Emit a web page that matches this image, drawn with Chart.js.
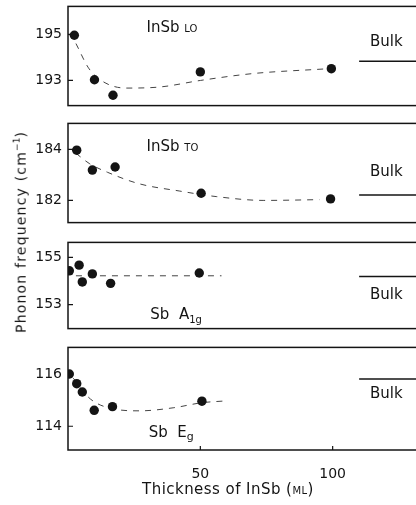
<!DOCTYPE html>
<html>
<head>
<meta charset="utf-8">
<script src="https://cdn.jsdelivr.net/npm/chart.js@4.4.1/dist/chart.umd.min.js"></script>
<style>
html, body { margin: 0; padding: 0; background: #fff; overflow: hidden; width: 416px; height: 505px; }
.panel { position: absolute; left: 0; }
#ytitle {
    position: absolute; left: 20px; top: 232px;
    transform: translate(-50%, -50%) rotate(-90deg);
    font: 14px "DejaVu Sans"; letter-spacing: 1.2px; white-space: nowrap; color: #141414;
}
#ytitle sup { font-size: 9px; letter-spacing: 0; }
</style>
</head>
<body>
<canvas id="p1" class="panel" width="420" height="128" style="top:-8px"></canvas>
<canvas id="p2" class="panel" width="420" height="128" style="top:109px"></canvas>
<canvas id="p3" class="panel" width="420" height="115" style="top:228px"></canvas>
<canvas id="p4" class="panel" width="420" height="172" style="top:333px"></canvas>
<div id="ytitle">Phonon frequency (cm<sup>−1</sup>)</div>
<script>
// thickness of InSb (ML)
const xTicks = [50, 100];
const bulkX = [110, 133];

// InSb LO
const loX = [2.4, 10, 17, 50, 99.5];
const loY = [194.96, 193.03, 192.36, 193.37, 193.51];
const loFitX = [3, 8, 14, 22, 35, 50, 70, 97];
const loFitY = [194.6, 193.5, 192.9, 192.67, 192.72, 193.0, 193.3, 193.5];
const loBulk = 193.83;
const loTicks = [193, 195];

// InSb TO
const toX = [3.3, 9.2, 17.8, 50.3, 99.2];
const toY = [183.97, 183.19, 183.31, 182.28, 182.06];
const toFitX = [3, 8, 15, 27, 42, 56, 74, 95];
const toFitY = [183.85, 183.45, 183.1, 182.65, 182.37, 182.15, 182.0, 182.03];
const toBulk = 182.21;
const toTicks = [182, 184];

// Sb A1g
const a1gX = [0.5, 4.2, 5.4, 9.2, 16.1, 49.6];
const a1gY = [154.43, 154.67, 153.96, 154.3, 153.9, 154.34];
const a1gFitX = [3, 58];
const a1gFitY = [154.22, 154.22];
const a1gBulk = 154.19;
const a1gTicks = [153, 155];

// Sb Eg
const egX = [0.5, 3.3, 5.4, 9.9, 16.8, 50.6];
const egY = [116.0, 115.63, 115.31, 114.61, 114.75, 114.96];
const egFitX = [2, 8.5, 18, 27, 40, 50.5, 59.5];
const egFitY = [115.84, 115.04, 114.65, 114.59, 114.71, 114.9, 114.97];
const egBulk = 115.81;
const egTicks = [114, 116];

const ink = '#141414';
const font = '"DejaVu Sans"';

const pairs = (xs, ys) => xs.map((x, i) => ({ x: x, y: ys[i] }));

// frame, inward ticks and text labels
const decor = {
    id: 'decor',
    afterDraw(chart, args, opts) {
        const { ctx, chartArea: a, scales } = chart;
        const x = scales.x, y = scales.y;
        ctx.save();
        ctx.strokeStyle = ink;
        ctx.lineWidth = 1.5;
        ctx.strokeRect(a.left, a.top, a.right - a.left, a.bottom - a.top);
        ctx.lineWidth = 1.2;
        ctx.beginPath();
        y.ticks.forEach(t => {
            const py = y.getPixelForValue(t.value);
            ctx.moveTo(a.left, py);
            ctx.lineTo(a.left + 5, py);
        });
        if (x.options.display) {
            x.ticks.forEach(t => {
                const px = x.getPixelForValue(t.value);
                ctx.moveTo(px, a.bottom);
                ctx.lineTo(px, a.bottom - 4);
            });
        }
        ctx.stroke();
        ctx.fillStyle = ink;
        ctx.textBaseline = 'alphabetic';
        (opts.labels || []).forEach(l => {
            let px = x.getPixelForValue(l.x);
            const base = (l.axis ? x.bottom - l.y : y.getPixelForValue(l.y)) + 5.5;
            ctx.letterSpacing = l.spacing || '0px';
            l.runs.forEach(r => {
                ctx.font = r.size + 'px ' + font;
                ctx.fillText(r.t, px, base + (r.dy || 0));
                px += ctx.measureText(r.t).width;
            });
        });
        ctx.restore();
    }
};

function makePanel(id, p) {
    const ctx = document.getElementById(id).getContext('2d');
    return new Chart(ctx, {
        type: 'scatter',
        data: {
            datasets: [{
                data: pairs(p.xs, p.ys),
                pointRadius: 4.7,
                pointBackgroundColor: ink,
                pointBorderWidth: 0,
                showLine: false
            }, {
                data: pairs(p.fitX, p.fitY),
                showLine: true,
                pointRadius: 0,
                borderColor: '#444',
                borderWidth: 1,
                borderDash: [6, 6],
                cubicInterpolationMode: 'monotone'
            }, {
                data: pairs(bulkX, [p.bulk, p.bulk]),
                showLine: true,
                pointRadius: 0,
                borderColor: ink,
                borderWidth: 1.5
            }]
        },
        options: {
            responsive: false,
            animation: false,
            events: [],
            layout: {
                autoPadding: false,
                padding: { top: 12, bottom: p.bottom ? 0 : 12, left: 0, right: 0 }
            },
            scales: {
                x: {
                    type: 'linear',
                    min: 0,
                    max: 133,
                    display: !!p.bottom,
                    grid: { display: false },
                    border: { display: false },
                    ticks: { font: { family: font, size: 14 }, color: ink, padding: 8 },
                    afterBuildTicks: s => { s.ticks = xTicks.map(v => ({ value: v })); },
                    afterFit: s => { if (p.bottom) s.height = 55; }
                },
                y: {
                    min: p.range[0],
                    max: p.range[1],
                    grid: { display: false, drawTicks: false },
                    border: { display: false },
                    ticks: { font: { family: font, size: 14 }, color: ink, padding: 6 },
                    afterBuildTicks: s => { s.ticks = p.ticks.map(v => ({ value: v })); },
                    afterFit: s => { s.width = 68; }
                }
            },
            plugins: {
                legend: { display: false },
                tooltip: { enabled: false },
                decor: { labels: p.labels }
            }
        },
        plugins: [decor]
    });
}

window.onload = function () {
    makePanel('p1', {
        xs: loX, ys: loY, fitX: loFitX, fitY: loFitY, bulk: loBulk,
        ticks: loTicks, range: [191.91, 196.21],
        labels: [
            { x: 29.7, y: 195.36, runs: [{ t: 'InSb ', size: 15 }, { t: 'LO', size: 10 }] },
            { x: 114.1, y: 194.74, runs: [{ t: 'Bulk', size: 15 }] }
        ]
    });
    makePanel('p2', {
        xs: toX, ys: toY, fitX: toFitX, fitY: toFitY, bulk: toBulk,
        ticks: toTicks, range: [181.13, 185.02],
        labels: [
            { x: 29.7, y: 184.14, runs: [{ t: 'InSb ', size: 15 }, { t: 'TO', size: 10 }] },
            { x: 114.1, y: 183.19, runs: [{ t: 'Bulk', size: 15 }] }
        ]
    });
    makePanel('p3', {
        xs: a1gX, ys: a1gY, fitX: a1gFitX, fitY: a1gFitY, bulk: a1gBulk,
        ticks: a1gTicks, range: [151.99, 155.63],
        labels: [
            { x: 31.1, y: 152.64, runs: [{ t: 'Sb  A', size: 15 }, { t: '1g', size: 10, dy: 4 }] },
            { x: 114.1, y: 153.47, runs: [{ t: 'Bulk', size: 15 }] }
        ]
    });
    makePanel('p4', {
        xs: egX, ys: egY, fitX: egFitX, fitY: egFitY, bulk: egBulk,
        ticks: egTicks, range: [113.09, 117.02], bottom: true,
        labels: [
            { x: 30.5, y: 113.78, runs: [{ t: 'Sb  E', size: 15 }, { t: 'g', size: 11, dy: 3 }] },
            { x: 114.1, y: 115.28, runs: [{ t: 'Bulk', size: 15 }] },
            { x: 28, y: 16.7, axis: true, spacing: '0.45px', runs: [{ t: 'Thickness of InSb (', size: 15 }, { t: 'ML', size: 10 }, { t: ')', size: 15 }] }
        ]
    });
};
</script>
</body>
</html>
